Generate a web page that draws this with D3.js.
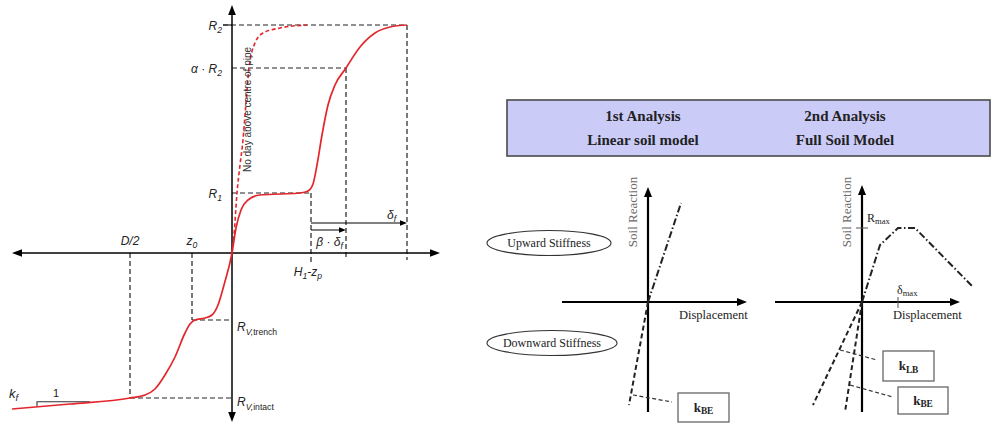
<!DOCTYPE html>
<html>
<head>
<meta charset="utf-8">
<script src="https://cdn.jsdelivr.net/npm/d3@7"></script>
<style>
  body { margin: 0; background: #fff; }
  svg { display: block; }
</style>
</head>
<body>
<svg id="chart" width="992" height="429"></svg>
<script>
// ---- Vertical pipe–soil interaction curve (displacement vs. soil reaction) ----
// Horizontal: displacement (uplift positive), vertical: soil reaction.
const upliftCurve = [
  [-2.20, -1.56], [-1.62, -1.51], [-1.02, -1.45], [-0.87, -1.42], [-0.77, -1.36],
  [-0.67, -1.22], [-0.57, -1.04], [-0.47, -0.80], [-0.42, -0.71], [-0.37, -0.67],
  [-0.27, -0.65], [-0.20, -0.62], [-0.14, -0.52], [-0.08, -0.32], [0.00, 0.00],
  [0.04, 0.25], [0.09, 0.43], [0.16, 0.53], [0.28, 0.58], [0.48, 0.59],
  [0.68, 0.60], [0.76, 0.62], [0.81, 0.69], [0.85, 0.88], [0.90, 1.18],
  [0.96, 1.48], [1.03, 1.68], [1.14, 1.85], [1.28, 2.06], [1.43, 2.20],
  [1.58, 2.26], [1.75, 2.28]
];
// Response with no clay above the pipe centre
const noClayCurve = [
  [0.00, 0.00], [0.02, 0.18], [0.05, 0.60], [0.08, 0.88], [0.11, 1.13],
  [0.14, 1.50], [0.17, 1.85], [0.23, 2.10], [0.31, 2.20], [0.48, 2.25], [0.75, 2.28]
];

// Reaction levels
const R2 = 2.28, alphaR2 = 1.85, R1 = 0.60, RVtrench = -0.67, RVintact = -1.45;
// Displacement marks
const halfD = -1.02, z0 = -0.40, H1zp = 0.79, betaDeltaEnd = 1.14, deltaEnd = 1.75;
// Residual slope k_f sketch
const kfStart = -1.95, kfEnd = -1.42;

// ---- Stiffness sketches for the two analyses ----
const linearUp = [[0, 0], [0.33, 0.99]];
const linearDown = [[0, 0], [-0.19, -1.03]];
const fullUp = [[0, 0], [0.18, 0.57], [0.36, 0.74], [0.53, 0.74], [1.11, 0.15]];
const fullDownLB = [[0, 0], [-0.49, -1.03]];
const fullDownBE = [[0, 0], [-0.17, -1.10]];
const Rmax = 0.74, deltaMax = 0.36;

const headerTitles = ["1st Analysis", "2nd Analysis"];
const headerModels = ["Linear soil model", "Full Soil Model"];
const stiffnessTags = ["Upward Stiffness", "Downward Stiffness"];

const svg = d3.select("#chart");
const RED = "#e3262b";
const SANS = "'Liberation Sans', Arial, sans-serif";
const SERIF = "'Liberation Serif', 'Times New Roman', serif";

// Scales
const xL = d3.scaleLinear().domain([-2.20, 2.08]).range([12, 440]);
const yL = d3.scaleLinear().domain([-1.69, 2.48]).range([422, 5]);
const xA = d3.scaleLinear().domain([-0.86, 0.99]).range([562, 747]);
const xB = d3.scaleLinear().domain([-0.87, 0.98]).range([775, 960]);
const yR = d3.scaleLinear().domain([-1.10, 1.17]).range([412, 185]);

function arrowHead(g, x, y, dir, size = 9, half = 3.5, color = "#000") {
  const pts = {
    right: [[x, y], [x - size, y - half], [x - size, y + half]],
    left: [[x, y], [x + size, y - half], [x + size, y + half]],
    up: [[x, y], [x - half, y + size], [x + half, y + size]],
    down: [[x, y], [x - half, y - size], [x + half, y - size]]
  }[dir];
  g.append("path").attr("d", "M" + pts.map(p => p.join(",")).join("L") + "Z").attr("fill", color);
}
function line(g, x1, y1, x2, y2, opts = {}) {
  return g.append("line").attr("x1", x1).attr("y1", y1).attr("x2", x2).attr("y2", y2)
    .attr("stroke", opts.color || "#000").attr("stroke-width", opts.w || 1.2)
    .attr("stroke-dasharray", opts.dash || null);
}
// Label with italic symbol and subscripts: parts = [[text, sub?, italic?], ...]
function label(g, x, y, parts, opts = {}) {
  const size = opts.size || 12;
  const t = g.append("text").attr("x", x).attr("y", y)
    .attr("font-family", opts.family || SANS).attr("font-size", size)
    .attr("fill", opts.color || "#222").attr("text-anchor", opts.anchor || "start");
  let shifted = false;
  parts.forEach(([s, sub, it]) => {
    const sp = t.append("tspan").text(s);
    if (it) sp.attr("font-style", "italic");
    if (sub && !shifted) { sp.attr("dy", opts.subDy || 3).attr("font-size", size * 0.72); shifted = true; }
    else if (sub) { sp.attr("font-size", size * 0.72); }
    else if (!sub && shifted) { sp.attr("dy", -(opts.subDy || 3)); shifted = false; }
  });
  return t;
}

// ================= Left diagram =================
const L = svg.append("g");
const dash = "5,3";
const dcol = "#222";

// Guide lines for reaction levels
line(L, xL(0) - 9, yL(R2), xL(deltaEnd), yL(R2), { dash, color: dcol, w: 1.2 });
line(L, xL(0) - 9, yL(R2), xL(0), yL(R2), { color: dcol, w: 1.2 });
line(L, xL(0), yL(alphaR2), xL(betaDeltaEnd), yL(alphaR2), { dash, color: dcol });
line(L, xL(0), yL(R1), xL(H1zp), yL(R1), { dash, color: dcol });
line(L, xL(H1zp), yL(R1), xL(H1zp), yL(0) + 9, { dash, color: dcol });
line(L, xL(betaDeltaEnd), yL(alphaR2), xL(betaDeltaEnd), yL(0) + 6, { dash, color: dcol });
line(L, xL(deltaEnd), yL(R2), xL(deltaEnd), yL(0) + 7, { dash, color: dcol });
line(L, xL(halfD), yL(0), xL(halfD), yL(RVintact), { dash, color: dcol });
line(L, xL(z0), yL(0), xL(z0), yL(RVtrench), { dash, color: dcol });
line(L, xL(z0), yL(RVtrench), xL(0), yL(RVtrench), { dash, color: dcol });
line(L, xL(halfD), yL(RVintact), xL(0), yL(RVintact), { dash, color: dcol });

// Displacement dimension arrows
const yDelta = 223, yBeta = 230;
line(L, xL(H1zp), yDelta, xL(deltaEnd) - 4, yDelta, { w: 1 });
arrowHead(L, xL(deltaEnd), yDelta, "right", 7, 2.8);
line(L, xL(H1zp), yBeta, xL(betaDeltaEnd) - 4, yBeta, { w: 1 });
arrowHead(L, xL(betaDeltaEnd), yBeta, "right", 7, 2.8);

// Axes
line(L, xL(-2.20) + 4, yL(0), xL(2.08) - 4, yL(0), { w: 1.5 });
arrowHead(L, xL(-2.20), yL(0), "left", 10, 3.8);
arrowHead(L, xL(2.08), yL(0), "right", 10, 3.8);
line(L, xL(0), yL(2.48) + 4, xL(0), yL(-1.69) - 4, { w: 1.5 });
arrowHead(L, xL(0), yL(2.48), "up", 10, 3.8);
arrowHead(L, xL(0), yL(-1.69), "down", 10, 3.8);

// k_f slope sketch
const kfY = d3.scaleLinear().domain([-2.20, -1.02]).range([-1.56, -1.45]);
L.append("path")
  .attr("d", `M${xL(kfStart)},${yL(kfY(kfStart))}L${xL(kfStart)},${yL(kfY(kfEnd))}L${xL(kfEnd)},${yL(kfY(kfEnd))}`)
  .attr("fill", "none").attr("stroke", "#333").attr("stroke-width", 1.1);

// Curves
const lineL = d3.line().x(d => xL(d[0])).y(d => yL(d[1])).curve(d3.curveMonotoneX);
L.append("path").datum(noClayCurve).attr("d", lineL)
  .attr("fill", "none").attr("stroke", RED).attr("stroke-width", 1.6).attr("stroke-dasharray", "4,2.5");
L.append("path").datum(upliftCurve).attr("d", lineL)
  .attr("fill", "none").attr("stroke", RED).attr("stroke-width", 1.7);

// Labels
label(L, xL(0) - 10, yL(R2) + 5, [["R", 0, 1], ["2", 1, 1]], { anchor: "end" });
label(L, xL(0) - 10, yL(alphaR2) + 5, [["α · R", 0, 1], ["2", 1, 1]], { anchor: "end" });
label(L, xL(0) - 10, yL(R1) + 5, [["R", 0, 1], ["1", 1, 1]], { anchor: "end" });
label(L, xL(halfD), yL(0) - 8, [["D/2", 0, 1]], { anchor: "middle" });
label(L, xL(z0), yL(0) - 8, [["z", 0, 1], ["0", 1, 1]], { anchor: "middle" });
label(L, xL(H1zp) - 3, yL(0) + 23, [["H", 0, 1], ["1", 1, 1], ["-z", 0, 1], ["p", 1, 1]], { anchor: "middle" });
label(L, (xL(H1zp) + xL(betaDeltaEnd)) / 2 + 1, yBeta + 16, [["β · δ", 0, 1], ["f", 1, 1]], { anchor: "middle" });
label(L, xL(deltaEnd) - 20, yDelta - 4, [["δ", 0, 1], ["f", 1, 1]]);
label(L, xL(0) + 5, yL(RVtrench) + 11, [["R", 0, 1], ["V,", 1, 1], ["trench", 1, 0]], { subDy: 3.5 });
label(L, xL(0) + 5, yL(RVintact) + 8, [["R", 0, 1], ["V,", 1, 1], ["intact", 1, 0]], { subDy: 3.5 });
label(L, 9, 398, [["k", 0, 1], ["f", 1, 1]], { size: 13 });
label(L, 53, 397, [["1", 0, 0]], { size: 11 });

L.append("text")
  .attr("transform", `translate(${xL(0) + 19},172) rotate(-90)`)
  .attr("text-anchor", "start")
  .attr("font-family", SANS).attr("font-size", 10).attr("fill", "#333")
  .text("No day above centre of pipe");

// ================= Right diagrams =================
const R = svg.append("g");

// Header band
R.append("rect").attr("x", 507).attr("y", 100).attr("width", 483).attr("height", 56)
  .attr("fill", "#cbcbf8").attr("stroke", "#4a4a4a").attr("stroke-width", 1.6);
const headerX = [643, 845];
headerTitles.forEach((t, i) => {
  R.append("text").attr("x", headerX[i]).attr("y", 121).attr("text-anchor", "middle")
    .attr("font-family", SERIF).attr("font-weight", "bold").attr("font-size", 15).attr("fill", "#222").text(t);
  R.append("text").attr("x", headerX[i]).attr("y", 145).attr("text-anchor", "middle")
    .attr("font-family", SERIF).attr("font-weight", "bold").attr("font-size", 15).attr("fill", "#222").text(headerModels[i]);
});

// Stiffness tags
const tagY = [243, 343], tagX = [549, 552], tagRx = [62, 65];
stiffnessTags.forEach((t, i) => {
  R.append("ellipse").attr("cx", tagX[i]).attr("cy", tagY[i]).attr("rx", tagRx[i]).attr("ry", 12.5)
    .attr("fill", "none").attr("stroke", "#333").attr("stroke-width", 1.1);
  R.append("text").attr("x", tagX[i]).attr("y", tagY[i] + 4).attr("text-anchor", "middle")
    .attr("font-family", SERIF).attr("font-size", 12).attr("fill", "#222").text(t);
});

function axesPanel(xs, topV) {
  line(R, xs.range()[0], yR(0), xs.range()[1] - 5, yR(0), { w: 2.2 });
  arrowHead(R, xs.range()[1], yR(0), "right", 10, 4);
  line(R, xs(0), yR(topV) + 5, xs(0), yR(-1.10), { w: 2.2 });
  arrowHead(R, xs(0), yR(topV), "up", 10, 4);
  R.append("text")
    .attr("transform", `translate(${xs(0) - 11},${yR(0.90)}) rotate(-90)`)
    .attr("text-anchor", "middle").attr("font-family", SERIF).attr("font-size", 13).attr("fill", "#6b6b6b")
    .text("Soil Reaction");
  R.append("text").attr("x", xs(0) + 31).attr("y", yR(0) + 17)
    .attr("font-family", SERIF).attr("font-size", 12.5).attr("fill", "#222").text("Displacement");
}
axesPanel(xA, 1.15);
axesPanel(xB, 1.17);

const dashDot = "7,2.5,1.5,2.5";
const dashK = "5,3";
const lineA = d3.line().x(d => xA(d[0])).y(d => yR(d[1]));
const lineB = d3.line().x(d => xB(d[0])).y(d => yR(d[1]));

R.append("path").datum(linearUp).attr("d", lineA).attr("fill", "none")
  .attr("stroke", "#222").attr("stroke-width", 2).attr("stroke-dasharray", dashDot);
R.append("path").datum(linearDown).attr("d", lineA).attr("fill", "none")
  .attr("stroke", "#222").attr("stroke-width", 2).attr("stroke-dasharray", dashK);
R.append("path").datum(fullUp).attr("d", lineB).attr("fill", "none")
  .attr("stroke", "#222").attr("stroke-width", 2).attr("stroke-dasharray", dashDot);
R.append("path").datum(fullDownLB).attr("d", lineB).attr("fill", "none")
  .attr("stroke", "#222").attr("stroke-width", 2).attr("stroke-dasharray", dashK);
R.append("path").datum(fullDownBE).attr("d", lineB).attr("fill", "none")
  .attr("stroke", "#222").attr("stroke-width", 2).attr("stroke-dasharray", dashK);

// R_max and δ_max marks
line(R, xB(0) - 6, yR(Rmax), xB(0) + 6, yR(Rmax), { w: 1, color: "#555" });
label(R, xB(0) + 5, yR(Rmax) - 6, [["R", 0, 0], ["max", 1, 0]], { family: SERIF, size: 12, subDy: 2 });
line(R, xB(deltaMax), yR(0) - 5, xB(deltaMax), yR(0) + 6, { w: 1, color: "#555" });
label(R, xB(deltaMax) - 1, yR(0) - 8, [["δ", 0, 0], ["max", 1, 0]], { family: SERIF, size: 12, subDy: 2 });

// Stiffness callouts
function callout(x1, y1, x2, y2, bx, by, bw, bh, sub) {
  line(R, x1, y1, x2, y2, { w: 1.2, dash: "4,2.5", color: "#333" });
  R.append("rect").attr("x", bx).attr("y", by).attr("width", bw).attr("height", bh)
    .attr("fill", "#fff").attr("stroke", "#666").attr("stroke-width", 1.3);
  label(R, bx + bw / 2, by + bh / 2 + 4, [["k", 0, 0], [sub, 1, 0]],
    { family: SERIF, size: 13, anchor: "middle", subDy: 2.5 }).attr("font-weight", "bold");
}
callout(633, 395, 672, 402, 678, 393, 51, 29, "BE");
callout(840, 350, 877, 360, 883, 351, 51, 30, "LB");
callout(850, 385, 893, 397, 898, 387, 50, 27, "BE");
</script>
</body>
</html>
